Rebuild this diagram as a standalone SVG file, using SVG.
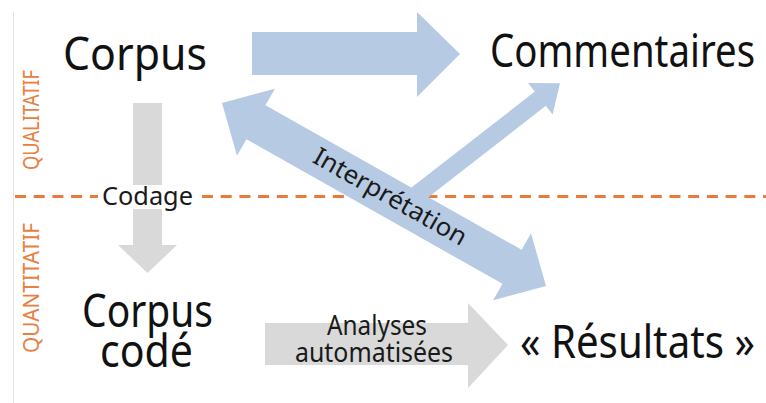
<svg xmlns="http://www.w3.org/2000/svg" width="766" height="403" viewBox="0 0 766 403">
<style>
  .node { font-family: "Noto Sans", "Open Sans", "DejaVu Sans", sans-serif; fill: #111; }
  .big { font-size: 46px; }
  .lbl { font-family: "Noto Sans", "Open Sans", "DejaVu Sans", sans-serif; fill: #1a1a1a; }
  .axis { font-family: "Noto Sans", "Open Sans", "DejaVu Sans", sans-serif; fill: #E8803F; font-size: 21px; }
  .blue { fill: #B7CAE3; }
  .gray { fill: #D9D9D9; }
</style>
<rect width="766" height="403" fill="#fff"/>
<line x1="13.5" y1="12" x2="13.5" y2="403" stroke="#e2e2e2" stroke-width="1"/>
<line id="separator" x1="15" y1="196.5" x2="766" y2="196.5" stroke="#E97A3C" stroke-width="3" stroke-dasharray="11 7.7"/>
<text class="axis" transform="translate(39,120) rotate(-90)" text-anchor="middle" textLength="100" lengthAdjust="spacingAndGlyphs">QUALITATIF</text>
<text class="axis" transform="translate(39,288) rotate(-90)" text-anchor="middle" textLength="130" lengthAdjust="spacingAndGlyphs">QUANTITATIF</text>

<g id="connectors">
  <polygon id="arrow-corpus-commentaires" class="blue" points="252,32 417,32 417,12 460,54 417,97 417,75 252,75"/>
  <polygon id="arrow-codage" class="gray" points="133,103 162,103 162,245 177,245 147.5,273 118,245 133,245"/>
  <polygon id="arrow-analyses" class="gray" points="265,323 468,323 468,303 508,345 468,388 468,365 265,365"/>
  <polygon id="arrow-commentaires" class="blue" points="397.3,198.6 534.8,91.6 528,82.9 560,83.3 552.6,114.5 545.8,105.8 408.3,212.8"/>
  <polygon id="arrow-interpretation" class="blue" points="222,103 274.9,88.7 265.5,105.2 521.6,249.8 531,233.3 546,286 493.1,300.3 502.5,283.8 246.4,139.2 237,155.7"/>
  <rect x="98" y="185" width="100" height="24" fill="#fff"/>
  <text class="lbl" x="147.5" y="205" font-size="25" text-anchor="middle" textLength="91" lengthAdjust="spacingAndGlyphs">Codage</text>
  <text class="lbl" transform="translate(390,197) rotate(29.46)" x="0" y="8" font-size="25" text-anchor="middle" textLength="172" lengthAdjust="spacingAndGlyphs">Interprétation</text>
  <text class="lbl" x="377" y="335" font-size="27" text-anchor="middle" textLength="100" lengthAdjust="spacingAndGlyphs">Analyses</text>
  <text class="lbl" x="374" y="362" font-size="27" text-anchor="middle" textLength="158" lengthAdjust="spacingAndGlyphs">automatisées</text>
</g>

<g id="corpus">
  <text class="node big" x="63" y="70" textLength="144" lengthAdjust="spacingAndGlyphs">Corpus</text>
</g>
<g id="commentaires">
  <text class="node big" transform="translate(490,67) scale(0.84,1)" x="0" y="0" textLength="315.5" lengthAdjust="spacingAndGlyphs">Commentaires</text>
</g>
<g id="corpus-code">
  <text class="node big" x="82" y="327" font-size="45" textLength="131" lengthAdjust="spacingAndGlyphs">Corpus</text>
  <text class="node big" x="100" y="367" font-size="45" textLength="93" lengthAdjust="spacingAndGlyphs">codé</text>
</g>
<g id="resultats">
  <text class="node big" transform="translate(520,358) scale(0.87,1)" x="0" y="0" font-size="45" textLength="270" lengthAdjust="spacingAndGlyphs">« Résultats »</text>
</g>
</svg>
